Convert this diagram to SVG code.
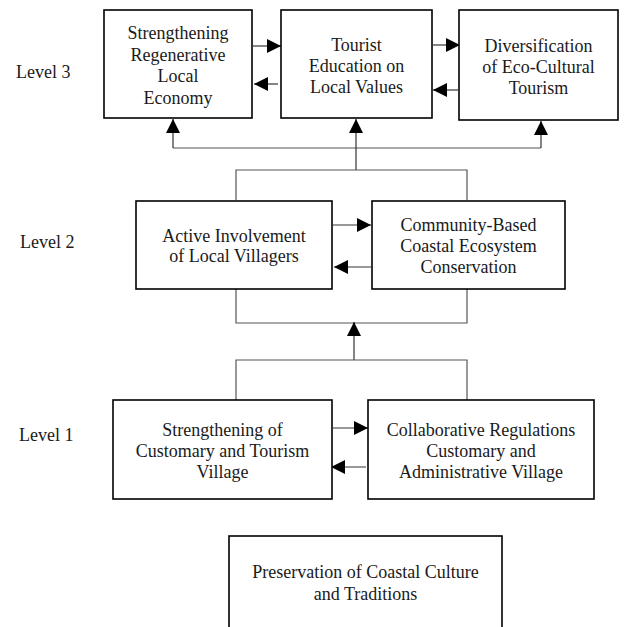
<svg xmlns="http://www.w3.org/2000/svg" width="633" height="627" viewBox="0 0 633 627">
<defs>
<style>
.box{fill:#fff;stroke:#000;stroke-width:1.6}
.t{font-family:"Liberation Serif","Times New Roman",serif;font-size:18px;fill:#1a1a1a;text-anchor:middle}
.lv{font-family:"Liberation Serif","Times New Roman",serif;font-size:18px;fill:#1a1a1a}
.c{fill:none;stroke:#555;stroke-width:1.2}
.a{fill:none;stroke:#333;stroke-width:1.2;marker-end:url(#ah)}
</style>
<marker id="ah" markerUnits="userSpaceOnUse" markerWidth="14" markerHeight="14" refX="14" refY="7" orient="auto">
<path d="M0,0 L14,7 L0,14 Z" fill="#000"/>
</marker>
</defs>
<rect width="633" height="627" fill="#fff"/>
<g id="labels">
<text class="lv" x="16" y="78">Level 3</text>
<text class="lv" x="20" y="248">Level 2</text>
<text class="lv" x="19" y="441">Level 1</text>
</g>
<g id="connectors">
<line class="a" x1="253" y1="46" x2="281" y2="46"/>
<line class="a" x1="278" y1="84" x2="254" y2="84"/>
<line class="a" x1="433" y1="45" x2="460" y2="45"/>
<line class="a" x1="458" y1="90" x2="433" y2="90"/>
<polyline class="c" points="173,148 541,148"/>
<line class="a" x1="173" y1="148" x2="173" y2="119"/>
<line class="a" x1="541" y1="148" x2="541" y2="121"/>
<line class="a" x1="356" y1="170" x2="356" y2="119"/>
<polyline class="c" points="236,200 236,170 467,170 467,200"/>
<line class="a" x1="333" y1="225" x2="371" y2="225"/>
<line class="a" x1="371" y1="267" x2="334" y2="267"/>
<polyline class="c" points="236,289 236,323 467,323 467,289"/>
<line class="a" x1="354" y1="360" x2="354" y2="322"/>
<polyline class="c" points="236,400 236,360 467,360 467,400"/>
<line class="a" x1="333" y1="428" x2="368" y2="428"/>
<line class="a" x1="366" y1="467" x2="331" y2="467"/>
</g>
<g id="n1">
<rect class="box" x="104" y="10" width="148" height="108"/>
<text class="t" x="178" y="39">Strengthening</text>
<text class="t" x="178" y="60.5">Regenerative</text>
<text class="t" x="178" y="82">Local</text>
<text class="t" x="178" y="103.5">Economy</text>
</g>
<g id="n2">
<rect class="box" x="281" y="10" width="151" height="108"/>
<text class="t" x="356.5" y="51">Tourist</text>
<text class="t" x="356.5" y="72">Education on</text>
<text class="t" x="356.5" y="93">Local Values</text>
</g>
<g id="n3">
<rect class="box" x="459" y="10" width="159" height="110"/>
<text class="t" x="538.5" y="52">Diversification</text>
<text class="t" x="538.5" y="73">of Eco-Cultural</text>
<text class="t" x="538.5" y="94">Tourism</text>
</g>
<g id="n4">
<rect class="box" x="136" y="201" width="196" height="88"/>
<text class="t" x="234" y="242">Active Involvement</text>
<text class="t" x="234" y="262">of Local Villagers</text>
</g>
<g id="n5">
<rect class="box" x="372" y="201" width="193" height="88"/>
<text class="t" x="468.5" y="231">Community-Based</text>
<text class="t" x="468.5" y="252">Coastal Ecosystem</text>
<text class="t" x="468.5" y="273">Conservation</text>
</g>
<g id="n6">
<rect class="box" x="113" y="400" width="219" height="99"/>
<text class="t" x="222.5" y="436">Strengthening of</text>
<text class="t" x="222.5" y="457">Customary and Tourism</text>
<text class="t" x="222.5" y="478">Village</text>
</g>
<g id="n7">
<rect class="box" x="368" y="400" width="226" height="99"/>
<text class="t" x="481" y="436">Collaborative Regulations</text>
<text class="t" x="481" y="457">Customary and</text>
<text class="t" x="481" y="478">Administrative Village</text>
</g>
<g id="n8">
<rect class="box" x="229" y="536" width="273" height="110"/>
<text class="t" x="365.5" y="578">Preservation of Coastal Culture</text>
<text class="t" x="365.5" y="600">and Traditions</text>
</g>
</svg>
